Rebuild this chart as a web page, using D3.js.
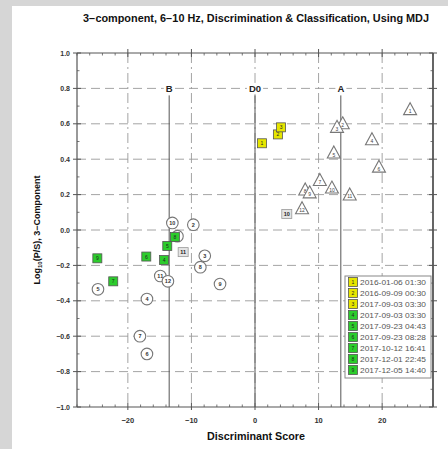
<!DOCTYPE html>
<html><head><meta charset="utf-8">
<script src="https://cdn.jsdelivr.net/npm/d3@7"></script>
<style>
html,body{margin:0;padding:0;background:#d6d6d6;}
svg{display:block;font-family:"Liberation Sans",Arial,sans-serif;}
</style></head>
<body>
<script>
// ---- data ----
const xTicks = [-20, -10, 0, 10, 20];
const yTicks = [1.0, 0.8, 0.6, 0.4, 0.2, 0.0, -0.2, -0.4, -0.6, -0.8, -1.0];
const discLines = [{name: "B", x: -13.5}, {name: "D0", x: 0}, {name: "A", x: 13.5}];

// A-class (triangles)
const triX = [24.4, 13.8, 12.9, 18.4, 12.4, 19.5, 10.2, 7.9, 8.6, 12.1, 14.9, 7.4];
const triY = [0.68, 0.60, 0.58, 0.51, 0.435, 0.355, 0.28, 0.226, 0.21, 0.237, 0.198, 0.12];
const triLab = ["1", "2", "3", "4", "5", "6", "7", "8", "9", "10", "11", "12"];

// B-class (circles)
const cirX = [-13.0, -9.7, -12.2, -7.9, -8.6, -14.9, -13.7, -5.5, -24.7, -17.0, -18.1, -17.0];
const cirY = [0.04, 0.03, -0.035, -0.146, -0.21, -0.26, -0.29, -0.305, -0.335, -0.39, -0.60, -0.70];
const cirLab = ["10", "2", "1", "3", "8", "11", "12", "9", "5", "4", "7", "6"];

// reference squares (gray)
const refX = [5.0, -11.3];
const refY = [0.09, -0.125];
const refLab = ["10", "11"];

// new events (legend squares)
const evX = [1.1, 3.6, 4.1, -14.3, -13.8, -17.1, -22.3, -12.6, -24.8];
const evY = [0.49, 0.54, 0.58, -0.17, -0.09, -0.15, -0.29, -0.04, -0.16];
const evLab = ["1", "2", "3", "4", "5", "6", "7", "8", "9"];
const evDate = ["2016-01-06 01:30", "2016-09-09 00:30", "2017-09-03 03:30", "2017-09-03 03:30",
  "2017-09-23 04:43", "2017-09-23 08:28", "2017-10-12 16:41", "2017-12-01 22:45", "2017-12-05 14:40"];
const evType = ["Y", "Y", "Y", "G", "G", "G", "G", "G", "G"];

// ---- drawing ----
const W = 448, H = 449;
const svg = d3.select("body").append("svg").attr("width", W).attr("height", H);
svg.append("rect").attr("x", 12).attr("y", 6).attr("width", W - 12).attr("height", H - 6).attr("fill", "#fff");

const x = d3.scaleLinear().domain([-28, 28]).range([77, 433]);
const y = d3.scaleLinear().domain([-1, 1]).range([407, 53]);
const X0 = x.range()[0], X1 = x.range()[1], Y0 = y.range()[1], Y1 = y.range()[0];

// grid
const g = svg.append("g");
g.selectAll("line.vg").data(xTicks).join("line")
  .attr("x1", d => x(d)).attr("x2", d => x(d)).attr("y1", Y0).attr("y2", Y1)
  .attr("stroke", "#9a9a9a").attr("stroke-width", 0.9).attr("stroke-dasharray", "10,4,2,4");
g.selectAll("line.hg").data(yTicks.filter(d => Math.abs(d) < 0.99)).join("line")
  .attr("x1", X0).attr("x2", X1).attr("y1", d => y(d)).attr("y2", d => y(d))
  .attr("stroke", "#9a9a9a").attr("stroke-width", 0.9).attr("stroke-dasharray", "9,5");

// discriminant lines
discLines.forEach(dl => {
  svg.append("line").attr("x1", x(dl.x)).attr("x2", x(dl.x)).attr("y1", y(0.8) + 7).attr("y2", Y1)
    .attr("stroke", "#555").attr("stroke-width", 1);
  const t = svg.append("text").attr("x", x(dl.x)).attr("y", y(0.8) + 3.5).attr("text-anchor", "middle")
    .attr("font-size", 9.5).attr("font-weight", "bold").attr("fill", "#222").text(dl.name);
  const bb = t.node().getBBox();
  svg.insert("rect", "text").attr("x", bb.x - 2).attr("y", bb.y).attr("width", bb.width + 4).attr("height", bb.height).attr("fill", "#fff");
});

// axes
const axG = svg.append("g").attr("stroke", "#555");
axG.append("line").attr("x1", X0).attr("x2", X1).attr("y1", Y0).attr("y2", Y0).attr("stroke-width", 1);
axG.append("line").attr("x1", X0).attr("x2", X1).attr("y1", Y1).attr("y2", Y1).attr("stroke-width", 1.2);
axG.append("line").attr("x1", X0).attr("x2", X0).attr("y1", Y0).attr("y2", Y1).attr("stroke-width", 1.2);
axG.append("line").attr("x1", X1).attr("x2", X1).attr("y1", Y0).attr("y2", Y1).attr("stroke-width", 1.8);

const minorX = d3.range(-28, 28.01, 2).filter(d => !xTicks.includes(d));
const minorY = d3.range(-10, 10.01, 1).map(d => d / 10).filter(d => Math.round(d * 10) % 2 !== 0);
// x ticks
axG.selectAll("line.xmaj").data(xTicks).join("line")
  .attr("x1", d => x(d)).attr("x2", d => x(d)).attr("y1", Y0 - 4).attr("y2", Y0 + 4);
axG.selectAll("line.xmajb").data(xTicks).join("line")
  .attr("x1", d => x(d)).attr("x2", d => x(d)).attr("y1", Y1 - 4).attr("y2", Y1 + 3);
axG.selectAll("line.xmin").data(minorX).join("line")
  .attr("x1", d => x(d)).attr("x2", d => x(d)).attr("y1", Y0).attr("y2", Y0 + 2.5).attr("stroke-width", 0.8);
axG.selectAll("line.xminb").data(minorX).join("line")
  .attr("x1", d => x(d)).attr("x2", d => x(d)).attr("y1", Y1).attr("y2", Y1 - 2.5).attr("stroke-width", 0.8);
// y ticks
axG.selectAll("line.ymaj").data(yTicks).join("line")
  .attr("x1", X0 - 4).attr("x2", X0 + 4).attr("y1", d => y(d)).attr("y2", d => y(d));
axG.selectAll("line.ymajr").data(yTicks).join("line")
  .attr("x1", X1 - 4).attr("x2", X1 + 4).attr("y1", d => y(d)).attr("y2", d => y(d));
axG.selectAll("line.ymin").data(minorY).join("line")
  .attr("x1", X0).attr("x2", X0 + 2.5).attr("y1", d => y(d)).attr("y2", d => y(d)).attr("stroke-width", 0.8);
axG.selectAll("line.yminr").data(minorY).join("line")
  .attr("x1", X1).attr("x2", X1 - 2.5).attr("y1", d => y(d)).attr("y2", d => y(d)).attr("stroke-width", 0.8);

// tick labels
const fmtNum = v => (v < 0 ? "\u2212" : "") + Math.abs(v);
svg.selectAll("text.xl").data(xTicks).join("text")
  .attr("x", d => x(d)).attr("y", Y1 + 16).attr("text-anchor", "middle")
  .attr("font-size", 7.5).attr("font-weight", "bold").attr("fill", "#333").text(d => fmtNum(d));
svg.selectAll("text.yl").data(yTicks).join("text")
  .attr("x", X0 - 7).attr("y", d => y(d) + 2.5).attr("text-anchor", "end")
  .attr("font-size", 7).attr("font-weight", "bold").attr("fill", "#333")
  .text(d => (d < 0 ? "\u2212" : "") + Math.abs(d).toFixed(1));

// titles
svg.append("text").attr("x", 256).attr("y", 22).attr("text-anchor", "middle")
  .attr("font-size", 10).attr("font-weight", "bold").attr("fill", "#111")
  .attr("textLength", 346).attr("lengthAdjust", "spacingAndGlyphs")
  .text("3\u2212component, 6\u221210 Hz, Discrimination & Classification, Using MDJ");
svg.append("text").attr("x", 256).attr("y", 440).attr("text-anchor", "middle")
  .attr("font-size", 10).attr("font-weight", "bold").attr("fill", "#111")
  .attr("textLength", 98).attr("lengthAdjust", "spacingAndGlyphs").text("Discriminant Score");
const yl = svg.append("text").attr("transform", "translate(40,230) rotate(-90)").attr("text-anchor", "middle")
  .attr("font-size", 9).attr("font-weight", "bold").attr("fill", "#111");
yl.append("tspan").text("Log");
yl.append("tspan").attr("font-size", 6).attr("dy", 2).text("10");
yl.append("tspan").attr("dy", -2).text("(P/S), 3\u2212Component");

// markers
const mk = svg.append("g");
// triangles
const tri = mk.selectAll("g.tri").data(triX.map((v, i) => ({x: v, y: triY[i], l: triLab[i]}))).join("g")
  .attr("transform", d => `translate(${x(d.x)},${y(d.y)})`);
tri.append("path").attr("d", "M0,-7 L6.5,5 L-6.5,5 Z").attr("fill", "#fff").attr("stroke", "#777").attr("stroke-width", 1.1);
tri.append("text").attr("y", 3.5).attr("text-anchor", "middle").attr("font-size", 5).attr("fill", "#444").text(d => d.l);
// circles
const cir = mk.selectAll("g.cir").data(cirX.map((v, i) => ({x: v, y: cirY[i], l: cirLab[i]}))).join("g")
  .attr("transform", d => `translate(${x(d.x)},${y(d.y)})`);
cir.append("circle").attr("r", 5.8).attr("fill", "#fff").attr("stroke", "#777").attr("stroke-width", 1.1);
cir.append("text").attr("y", 2).attr("text-anchor", "middle").attr("font-size", 5.5).attr("font-weight", "bold").attr("fill", "#333").text(d => d.l);
// reference squares
const rs = mk.selectAll("g.rs").data(refX.map((v, i) => ({x: v, y: refY[i], l: refLab[i]}))).join("g")
  .attr("transform", d => `translate(${x(d.x)},${y(d.y)})`);
rs.append("rect").attr("x", -5).attr("y", -4.5).attr("width", 10).attr("height", 9).attr("fill", "#e4e4e4").attr("stroke", "#999").attr("stroke-width", 0.8);
rs.append("text").attr("y", 2).attr("text-anchor", "middle").attr("font-size", 5.5).attr("font-weight", "bold").attr("fill", "#222").text(d => d.l);
// event squares
const colorOf = t => t === "Y" ? "#e6e600" : "#2ccc2c";
const es = mk.selectAll("g.es").data(evX.map((v, i) => ({x: v, y: evY[i], l: evLab[i], t: evType[i]}))).join("g")
  .attr("transform", d => `translate(${x(d.x)},${y(d.y)})`);
es.append("rect").attr("x", -4.5).attr("y", -4.5).attr("width", 9).attr("height", 9).attr("fill", d => colorOf(d.t)).attr("stroke", "#555").attr("stroke-width", 0.8);
es.append("text").attr("y", 2).attr("text-anchor", "middle").attr("font-size", 5).attr("fill", "#222").text(d => d.l);

// legend
const lg = svg.append("g");
lg.append("rect").attr("x", 345).attr("y", 276).attr("width", 86).attr("height", 102)
  .attr("fill", "#fff").attr("stroke", "#888").attr("stroke-width", 1);
const le = lg.selectAll("g.le").data(evDate.map((d, i) => ({d, l: evLab[i], t: evType[i]}))).join("g")
  .attr("transform", (d, i) => `translate(353,${282 + i * 11})`);
le.append("rect").attr("x", -4.5).attr("y", -4.5).attr("width", 9).attr("height", 9).attr("fill", d => colorOf(d.t)).attr("stroke", "#555").attr("stroke-width", 0.8);
le.append("text").attr("y", 2).attr("text-anchor", "middle").attr("font-size", 5).attr("fill", "#222").text(d => d.l);
le.append("text").attr("x", 7).attr("y", 3).attr("font-size", 8).attr("fill", "#555")
  .attr("textLength", 66).attr("lengthAdjust", "spacingAndGlyphs").text(d => d.d);
</script>
</body></html>
